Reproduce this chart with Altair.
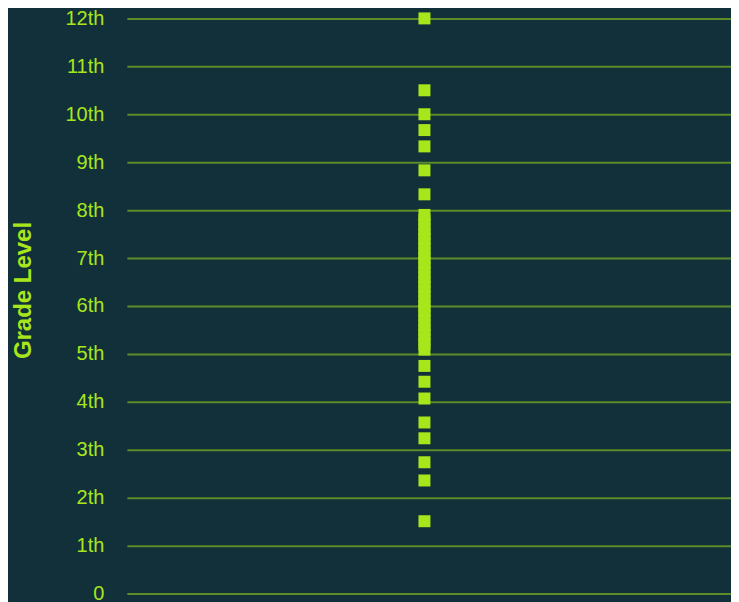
import altair as alt
import pandas as pd

# Grade levels (one square per text)
outliers_high = [12.0, 10.5, 10.0, 9.67, 9.33, 8.83, 8.33]
dense_middle = [7.9, 7.8, 7.7, 7.6, 7.5, 7.4, 7.3, 7.2, 7.1, 7.0, 6.9, 6.8, 6.7,
                6.6, 6.5, 6.4, 6.3, 6.2, 6.1, 6.0, 5.9, 5.8, 5.7, 5.6, 5.5, 5.4,
                5.3, 5.2, 5.09]
outliers_low = [4.75, 4.42, 4.07, 3.57, 3.24, 2.74, 2.36, 1.51]
grade_ticks = list(range(0, 13))

grades = outliers_high + dense_middle + outliers_low
df = pd.DataFrame({"grade": grades, "pos": [0] * len(grades)})

BG = "#12303a"
LIME = "#a8e61c"
GRID = "#5b8c2a"

chart = alt.Chart(df).mark_point(
    shape="square", filled=True, size=144, opacity=1, color=LIME
).encode(
    x=alt.X("pos:Q", axis=None, scale=alt.Scale(domain=[-1, 1.03])),
    y=alt.Y(
        "grade:Q",
        title="Grade Level",
        scale=alt.Scale(domain=[0, 12], nice=False),
        axis=alt.Axis(
            values=grade_ticks,
            labelExpr="datum.value == 0 ? '0' : datum.value + 'th'",
            grid=True,
            gridColor=GRID,
            gridWidth=2,
            gridOpacity=1,
            domain=False,
            ticks=False,
            tickSize=0,
            labelPadding=23,
            labelColor=LIME,
            labelFont="Liberation Sans",
            labelFontSize=20,
            titleColor=LIME,
            titleFont="Liberation Sans",
            titleFontSize=24,
            titleFontWeight="bold",
            titlePadding=30,
            titleY=272,
        ),
    ),
).properties(
    width=605, height=576, background=BG,
    padding={"left": 3, "top": 0, "right": 0, "bottom": 0}
).configure_view(stroke=None)

chart.save("out.html", embed_options={"renderer": "svg", "actions": False})
